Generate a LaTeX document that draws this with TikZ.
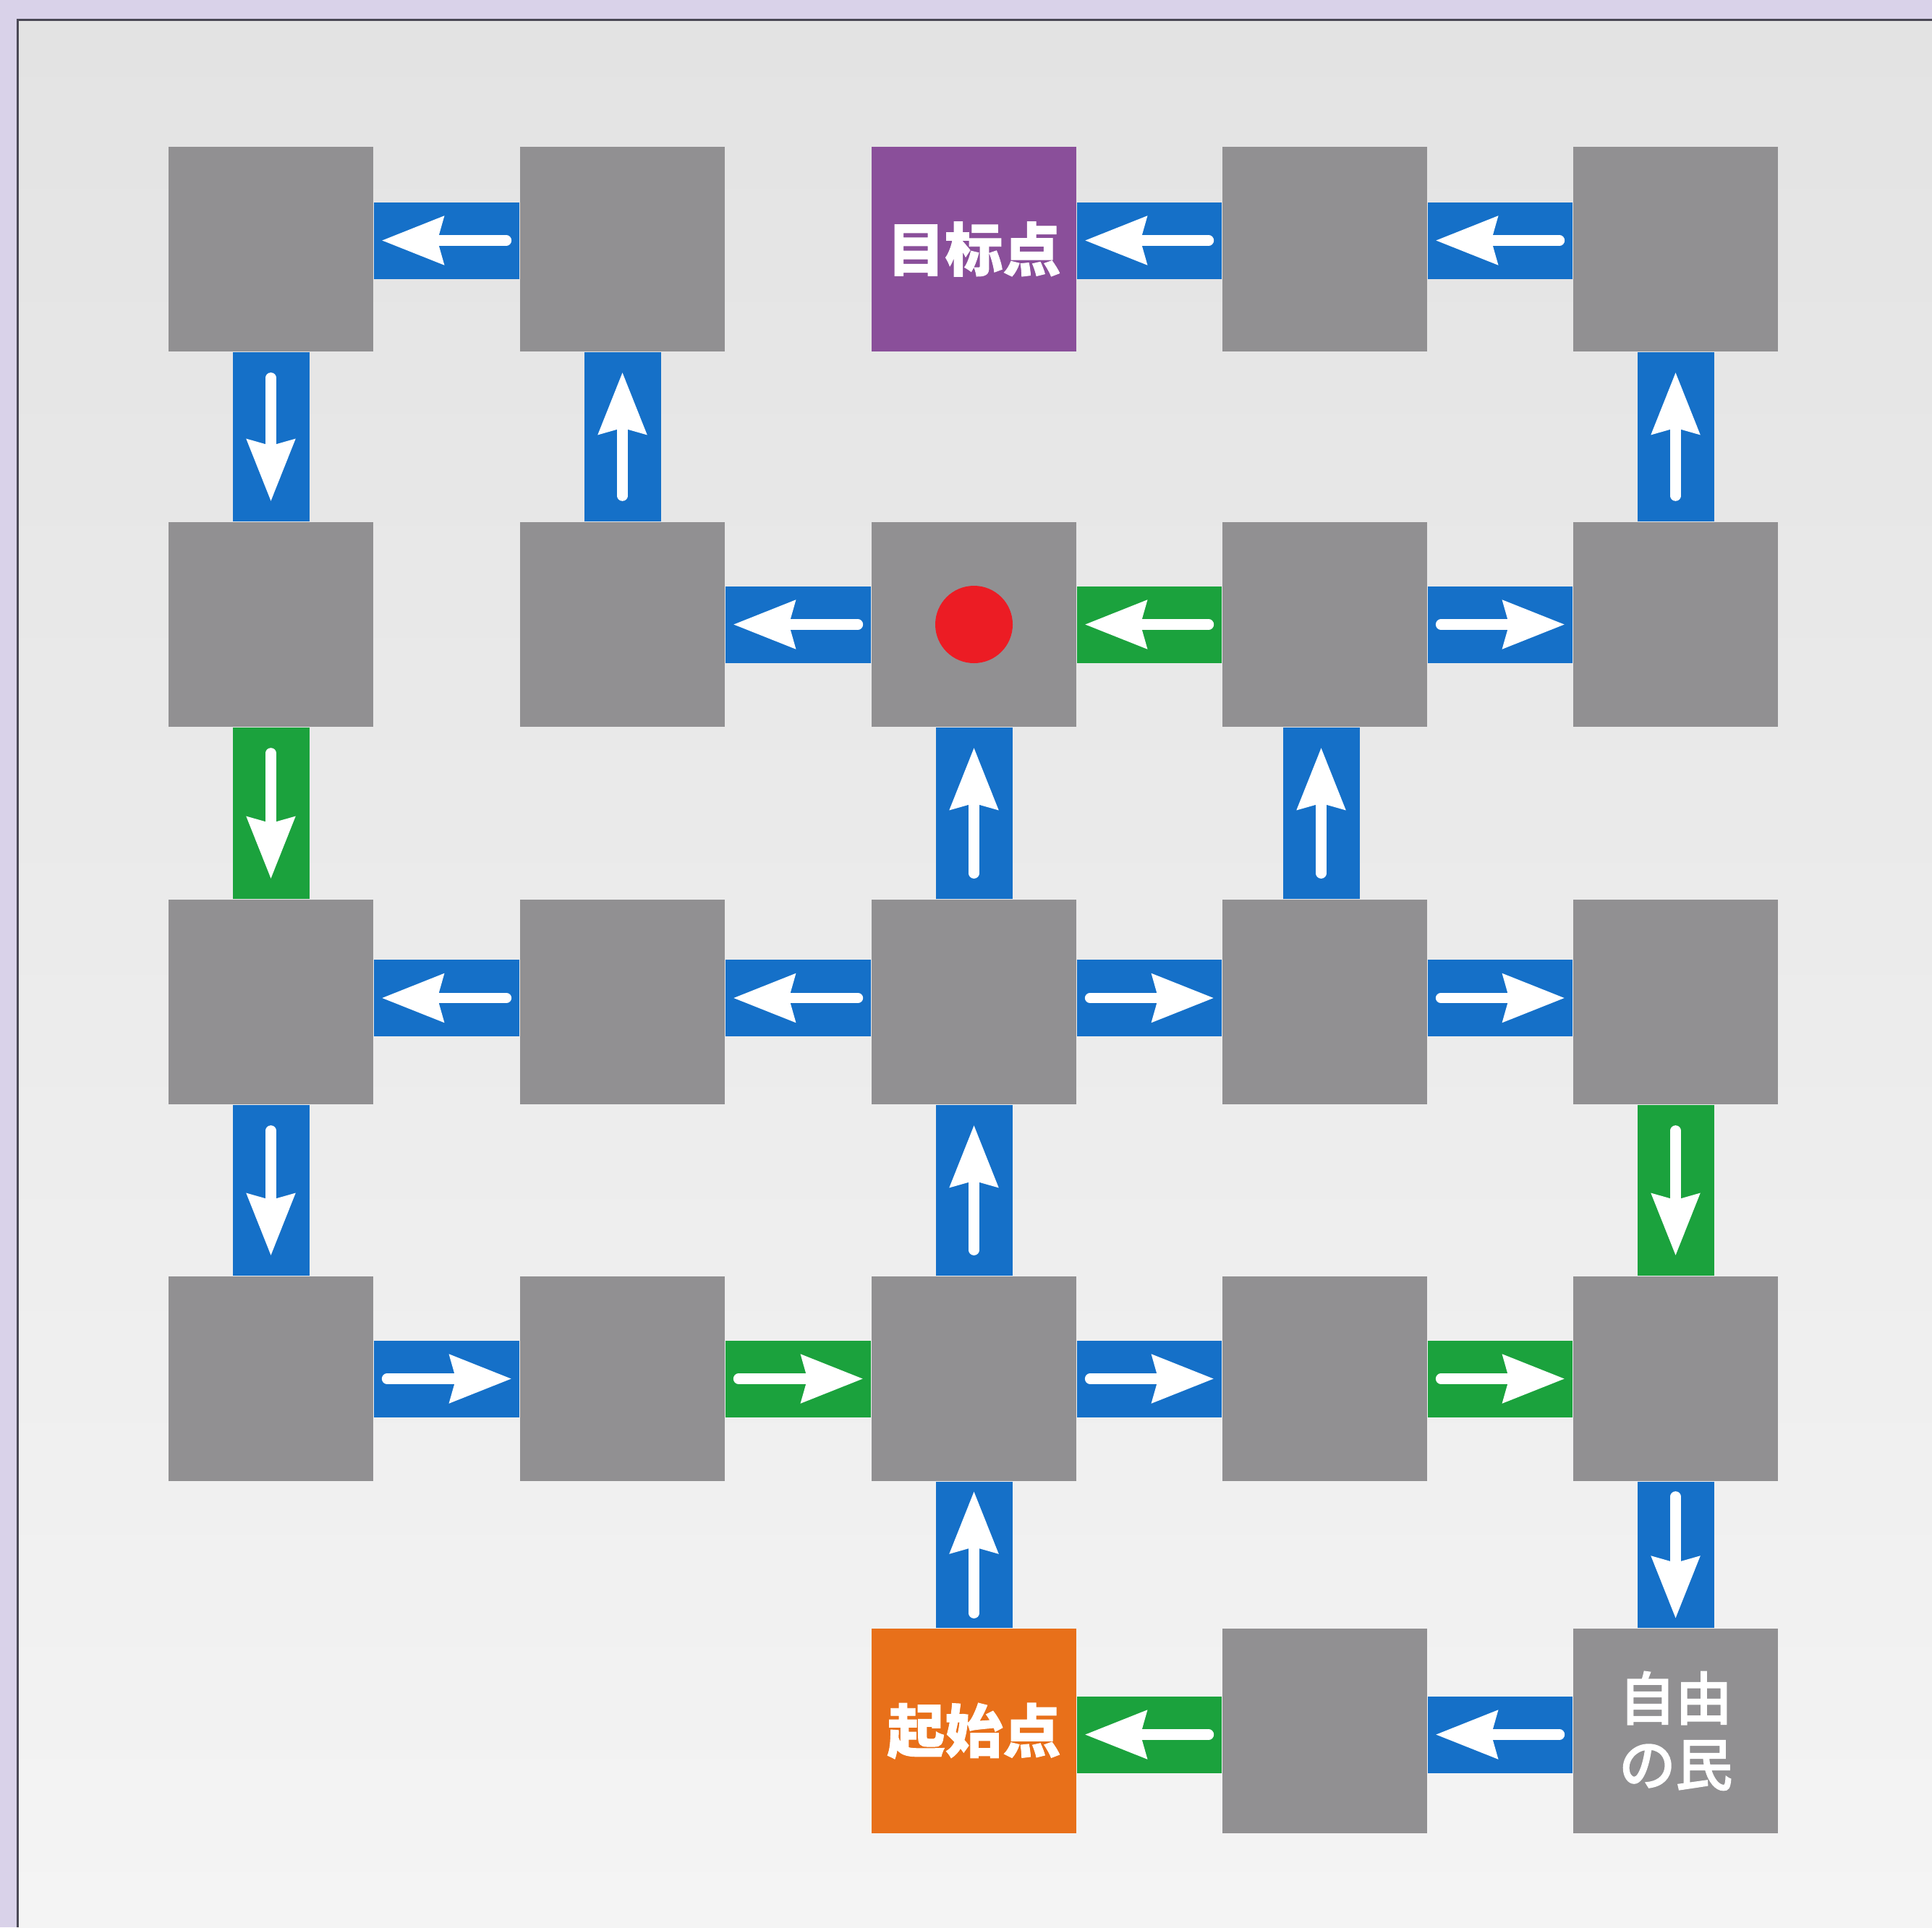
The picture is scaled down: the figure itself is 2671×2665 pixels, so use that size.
\documentclass[tikz,border=0pt]{standalone}
\usepackage{fontspec}
\newfontfamily\cjk{Noto Sans CJK SC}[BoldFeatures={FakeBold=1.2}]
\newfontfamily\cjkjp{Noto Sans CJK JP}[FakeBold=3.5]
\usetikzlibrary{arrows.meta,calc}
\definecolor{cellgray}{HTML}{919092}
\definecolor{barblue}{HTML}{1570C8}
\definecolor{bargreen}{HTML}{1BA23D}
\definecolor{goalpurple}{HTML}{8A4F9A}
\definecolor{startorange}{HTML}{E8701A}
\definecolor{dotred}{HTML}{EC1C24}
\definecolor{framelav}{HTML}{D9D2E9}
\definecolor{framebd}{HTML}{4A4855}
\definecolor{bgtop}{HTML}{E3E3E3}
\definecolor{bgbot}{HTML}{F4F4F4}
\newcommand\mzlink[4]{\draw[#1] (#2) -- (#3); \draw[#4] (#2) -- (#3);}
\begin{document}
\begin{tikzpicture}[x=0.3pt,y=-0.3pt,
  cell/.style={rectangle, fill=cellgray, draw=none, inner sep=0pt, minimum size=84.9pt},
  bluebar/.style={draw=barblue, line width=31.8pt, line cap=butt},
  greenbar/.style={draw=bargreen, line width=31.8pt, line cap=butt},
  wa/.style={draw=white, line width=4.3pt, line cap=round, -{Stealth[length=25.5pt,width=19.5pt,inset=2.4pt]}},
  hgap/.style={wa, shorten <=5.5pt, shorten >=3.3pt},
  vgap/.style={wa, shorten <=10.7pt, shorten >=8.4pt},
  sgap/.style={wa, shorten <=6.2pt, shorten >=4pt},
  celltext/.style={text=white, font=\cjk\bfseries\fontsize{24pt}{28pt}\selectfont},
  freetext/.style={text=white, align=center, font=\cjkjp\fontsize{23.5pt}{27.3pt}\selectfont}
]
\useasboundingbox (0,0) rectangle (2671,2665);
% frame and background
\fill[framelav] (0,0) rectangle (2671,2665);
\shade[top color=bgtop, bottom color=bgbot] (24,28) rectangle (2671,2665);
\draw[framebd, line width=0.9pt] (24,2665) -- (24,28) -- (2671,28);

% cells
\node[cell] (c11) at (374.5,344.5) {};
\node[cell] (c12) at (860.5,344.5) {};
\node[cell, fill=goalpurple, celltext] (c13) at (1346.5,344.5) {目标点};
\node[cell] (c14) at (1831.5,344.5) {};
\node[cell] (c15) at (2316.5,344.5) {};

\node[cell] (c21) at (374.5,863.5) {};
\node[cell] (c22) at (860.5,863.5) {};
\node[cell] (c23) at (1346.5,863.5) {};
\node[cell] (c24) at (1831.5,863.5) {};
\node[cell] (c25) at (2316.5,863.5) {};

\node[cell] (c31) at (374.5,1385.5) {};
\node[cell] (c32) at (860.5,1385.5) {};
\node[cell] (c33) at (1346.5,1385.5) {};
\node[cell] (c34) at (1831.5,1385.5) {};
\node[cell] (c35) at (2316.5,1385.5) {};

\node[cell] (c41) at (374.5,1906.5) {};
\node[cell] (c42) at (860.5,1906.5) {};
\node[cell] (c43) at (1346.5,1906.5) {};
\node[cell] (c44) at (1831.5,1906.5) {};
\node[cell] (c45) at (2316.5,1906.5) {};

\node[cell, fill=startorange, celltext] (c53) at (1346.5,2393.5) {起始点};
\node[cell] (c54) at (1831.5,2393.5) {};
\node[cell, freetext] (c55) at (2316.5,2393.5) {自由\\の民};

\node[circle, fill=dotred, draw=none, inner sep=0pt, minimum size=32.1pt] (dot) at (c23.center) {};

% row 1
\mzlink{bluebar}{[yshift=3.6pt]c12.west}{[yshift=3.6pt]c11.east}{hgap}
\mzlink{bluebar}{[yshift=3.6pt]c14.west}{[yshift=3.6pt]c13.east}{hgap}
\mzlink{bluebar}{[yshift=3.6pt]c15.west}{[yshift=3.6pt]c14.east}{hgap}
% rows 1-2
\mzlink{bluebar}{c11.south}{c21.north}{vgap}
\mzlink{bluebar}{c22.north}{c12.south}{vgap}
\mzlink{bluebar}{c25.north}{c15.south}{vgap}
% row 2
\mzlink{bluebar}{c23.west}{c22.east}{hgap}
\mzlink{greenbar}{c24.west}{c23.east}{hgap}
\mzlink{bluebar}{c24.east}{c25.west}{hgap}
% rows 2-3
\mzlink{greenbar}{c21.south}{c31.north}{vgap}
\mzlink{bluebar}{c33.north}{c23.south}{vgap}
\mzlink{bluebar}{[xshift=-1.5pt]c34.north}{[xshift=-1.5pt]c24.south}{vgap}
% row 3
\mzlink{bluebar}{[yshift=1.65pt]c32.west}{[yshift=1.65pt]c31.east}{hgap}
\mzlink{bluebar}{[yshift=1.65pt]c33.west}{[yshift=1.65pt]c32.east}{hgap}
\mzlink{bluebar}{[yshift=1.65pt]c33.east}{[yshift=1.65pt]c34.west}{hgap}
\mzlink{bluebar}{[yshift=1.65pt]c34.east}{[yshift=1.65pt]c35.west}{hgap}
% rows 3-4
\mzlink{bluebar}{c31.south}{c41.north}{vgap}
\mzlink{bluebar}{c43.north}{c33.south}{vgap}
\mzlink{greenbar}{c35.south}{c45.north}{vgap}
% row 4
\mzlink{bluebar}{c41.east}{c42.west}{hgap}
\mzlink{greenbar}{c42.east}{c43.west}{hgap}
\mzlink{bluebar}{c43.east}{c44.west}{hgap}
\mzlink{greenbar}{c44.east}{c45.west}{hgap}
% rows 4-5
\mzlink{bluebar}{c53.north}{c43.south}{sgap}
\mzlink{bluebar}{c45.south}{c55.north}{sgap}
% row 5
\mzlink{greenbar}{[yshift=-1.5pt]c54.west}{[yshift=-1.5pt]c53.east}{hgap}
\mzlink{bluebar}{[yshift=-1.5pt]c55.west}{[yshift=-1.5pt]c54.east}{hgap}
\end{tikzpicture}
\end{document}
